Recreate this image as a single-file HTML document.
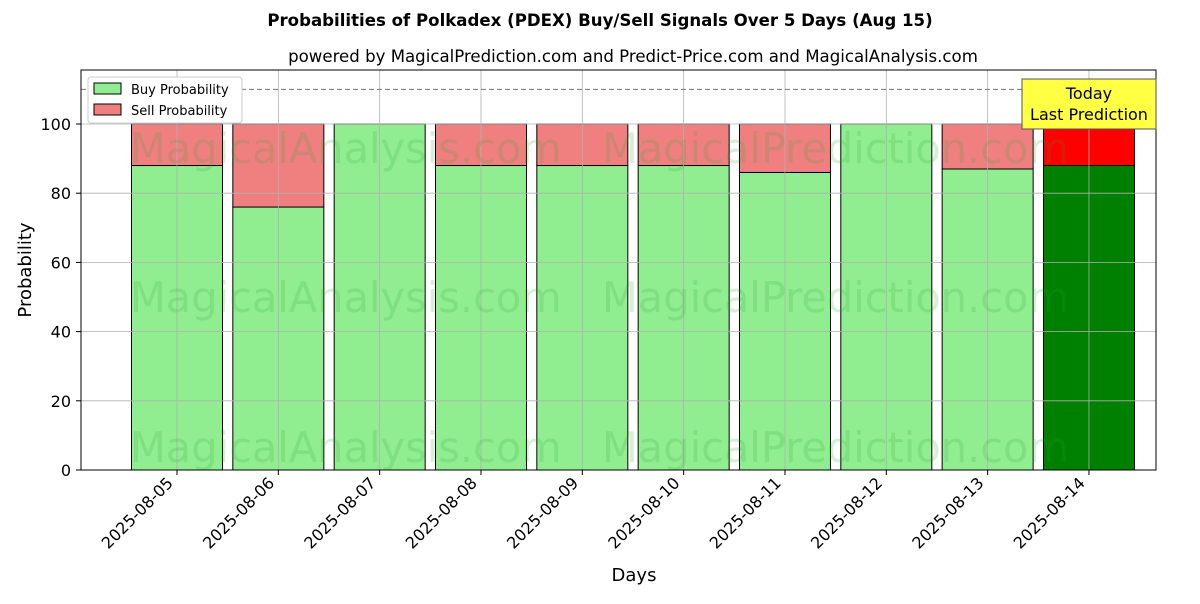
<!DOCTYPE html>
<html><head><meta charset="utf-8"><style>
body{margin:0;background:#fff;font-family:"DejaVu Sans","Liberation Sans",sans-serif;}
</style></head><body>
<svg id="chart" width="1200" height="600" xmlns="http://www.w3.org/2000/svg" font-family="DejaVu Sans, Liberation Sans, sans-serif">
<text x="600" y="26" text-anchor="middle" font-size="16.6" font-weight="bold">Probabilities of Polkadex (PDEX) Buy/Sell Signals Over 5 Days (Aug 15)</text>
<text x="633" y="62" text-anchor="middle" font-size="16.6">powered by MagicalPrediction.com and Predict-Price.com and MagicalAnalysis.com</text>
<g id="bars"></g>
<g id="grid"></g>
<g id="wm" font-size="41.5" fill="#2ca02c" fill-opacity="0.18">
<text x="130" y="163">MagicalAnalysis.com</text><text x="602" y="163">MagicalPrediction.com</text>
<text x="130" y="312">MagicalAnalysis.com</text><text x="602" y="312">MagicalPrediction.com</text>
<text x="130" y="462">MagicalAnalysis.com</text><text x="602" y="462">MagicalPrediction.com</text>
</g>
<line x1="81" x2="1156" y1="89.4" y2="89.4" stroke="#777" stroke-dasharray="5,3"/>
<rect x="81" y="70" width="1075" height="400" fill="none" stroke="#000"/>
<g id="axes"></g>
<text x="634" y="581" text-anchor="middle" font-size="18">Days</text>
<text transform="translate(31,270) rotate(-90)" text-anchor="middle" font-size="18">Probability</text>
<g>
<rect x="88" y="77" width="154" height="46" fill="#fff" stroke="#ccc" rx="3"/>
<rect x="94" y="83" width="27" height="11" fill="#90ee90" stroke="#000"/>
<text x="131" y="94" font-size="13">Buy Probability</text>
<rect x="94" y="104" width="27" height="11" fill="#f08080" stroke="#000"/>
<text x="131" y="115" font-size="13">Sell Probability</text>
</g>
<g>
<rect x="1022" y="79" width="134" height="50" fill="#ffff44" stroke="#555"/>
<text x="1089" y="99" text-anchor="middle" font-size="16">Today</text>
<text x="1089" y="120" text-anchor="middle" font-size="16">Last Prediction</text>
</g>
</svg>
<script>
const dates=["2025-08-05","2025-08-06","2025-08-07","2025-08-08","2025-08-09","2025-08-10","2025-08-11","2025-08-12","2025-08-13","2025-08-14"];
const buyValues=[88,76,100,88,88,88,86,100,87,88];
const sellValues=[12,24,0,12,12,12,14,0,13,12];
const yTicks=[0,20,40,60,80,100];
const NS="http://www.w3.org/2000/svg";
const y=v=>470-v*3.46;
const x=i=>177+i*101.33;
const bw=91;
function mk(tag,attrs,parent){const e=document.createElementNS(NS,tag);for(const k in attrs)e.setAttribute(k,attrs[k]);document.getElementById(parent).appendChild(e);return e;}
yTicks.forEach(t=>{
 const g=mk('line',{x1:81,x2:1156,y1:y(t),y2:y(t),stroke:'#b0b0b0','stroke-width':0.8},'grid');
 
 
 mk('line',{x1:76,x2:81,y1:y(t),y2:y(t),stroke:'#000'},'axes');
 const l=mk('text',{x:71,y:y(t)+6,'text-anchor':'end','font-size':16},'axes');
 l.textContent=t;
 
 
});
dates.forEach((d,i)=>{
 const g=mk('line',{x1:x(i),x2:x(i),y1:70,y2:470,stroke:'#b0b0b0','stroke-width':0.8},'grid');
 
 
 const last=i===dates.length-1;
 const b=mk('rect',{x:x(i)-bw/2,y:y(buyValues[i]),width:bw,height:y(0)-y(buyValues[i]),fill:last?'#008000':'#90ee90',stroke:'#000','stroke-width':1},'bars');
 
 
 const s=mk('rect',{x:x(i)-bw/2,y:y(buyValues[i]+sellValues[i]),width:bw,height:y(buyValues[i])-y(buyValues[i]+sellValues[i]),fill:last?'#ff0000':'#f08080',stroke:'#000','stroke-width':1},'bars');
 
 
 mk('line',{x1:x(i),x2:x(i),y1:470,y2:475,stroke:'#000'},'axes');
 const t=mk('text',{transform:`translate(${x(i)-3},${484}) rotate(-45)`,'text-anchor':'end','font-size':16},'axes');
 t.textContent=d;
 
 
});
</script>
</body></html>
